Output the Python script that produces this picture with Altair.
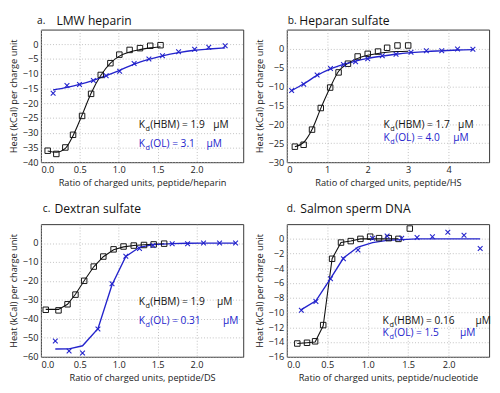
import altair as alt
import pandas as pd

FONT = "Open Sans"
BLUE = "#2323cc"
BLACK = "#111111"

# ---------------- data ----------------
# a. LMW heparin
a_hbm_x = [0.087, 0.198, 0.314, 0.413, 0.529, 0.645, 0.769, 0.893, 1.008, 1.14, 1.273, 1.405, 1.537]
a_hbm_y = [-36.1, -37.2, -35.0, -30.7, -24.3, -16.8, -10.4, -6.4, -3.5, -1.9, -1.3, -0.5, -0.3]
a_hfit_y = [-36.2, -36.6, -35.3, -31.0, -24.0, -16.6, -10.6, -6.4, -4.0, -2.6, -1.8, -1.2, -0.8]
a_ol_x = [0.157, 0.335, 0.496, 0.674, 0.839, 1.012, 1.198, 1.388, 1.562, 1.769, 1.975, 2.157, 2.368]
a_ol_y = [-16.6, -14.0, -13.6, -12.3, -10.7, -9.1, -6.5, -5.0, -3.9, -2.5, -1.7, -1.0, -0.5]
a_ofit_y = [-15.5, -14.6, -13.6, -12.2, -10.6, -8.8, -6.7, -5.1, -3.9, -2.8, -2.0, -1.6, -1.2]

# b. Heparan sulfate
b_hbm_x = [0.2, 0.416, 0.624, 0.84, 1.072, 1.28, 1.512, 1.752, 2.0, 2.256, 2.48, 2.736, 3.0]
b_hbm_y = [-25.9, -25.4, -21.4, -15.7, -10.3, -6.3, -4.0, -2.1, -1.4, -0.8, 0.2, 0.8, 0.8]
b_hfit_y = [-25.9, -24.8, -21.4, -15.8, -10.3, -6.0, -3.9, -2.6, -1.8, -1.3, -1.0, -0.8, -0.7]
b_ol_x = [0.12, 0.42, 0.75, 1.08, 1.4, 1.7, 2.0, 2.36, 2.7, 3.07, 3.45, 3.83, 4.22, 4.6]
b_ol_y = [-11.1, -9.4, -7.0, -5.3, -4.2, -3.5, -2.7, -1.9, -1.5, -1.0, -0.6, -0.6, -0.1, -0.2]
b_ofit_y = [-11.1, -9.3, -7.1, -5.4, -4.2, -3.3, -2.6, -2.0, -1.5, -1.1, -0.8, -0.6, -0.4, -0.3]

# c. Dextran sulfate
c_hbm_x = [0.062, 0.226, 0.342, 0.444, 0.556, 0.679, 0.802, 0.934, 1.062, 1.193, 1.325, 1.449, 1.584]
c_hbm_y = [-35.2, -35.5, -32.3, -27.2, -19.9, -12.4, -7.1, -3.3, -1.8, -1.3, -1.0, -0.7, -0.3]
c_hfit_y = [-35.0, -35.0, -32.3, -27.0, -19.9, -12.5, -7.2, -3.5, -2.0, -1.3, -0.9, -0.6, -0.3]
c_ol_x = [0.185, 0.362, 0.535, 0.733, 0.914, 1.091, 1.267, 1.44, 1.687, 1.885, 2.09, 2.296, 2.502]
c_ol_y = [-51.7, -57.0, -58.0, -45.4, -21.4, -7.0, -2.8, -1.3, -0.3, -0.3, 0.0, 0.0, 0.0]
c_ofit_y = [-55.9, -55.8, -54.2, -45.2, -22.0, -7.0, -2.2, -0.8, -0.3, -0.1, 0.0, 0.0, 0.0]

# d. Salmon sperm DNA
d_hbm_x = [0.13, 0.25, 0.35, 0.45, 0.56, 0.67, 0.79, 0.91, 1.03, 1.14, 1.26, 1.38, 1.52]
d_hbm_y = [-14.2, -14.1, -13.9, -11.7, -2.7, -0.5, -0.3, 0.0, 0.3, 0.1, 0.1, 0.0, 1.4]
d_hfit_x = [0.13, 0.25, 0.35, 0.45, 0.56, 0.67, 0.79, 0.91, 1.03, 1.14, 1.26, 1.38]
d_hfit_y = [-14.2, -14.1, -14.0, -11.8, -2.7, -0.5, -0.3, 0.0, 0.0, 0.0, 0.0, 0.0]
d_ol_x = [0.18, 0.36, 0.54, 0.70, 0.88, 1.06, 1.24, 1.42, 1.61, 1.80, 1.99, 2.19, 2.39]
d_ol_y = [-9.7, -8.5, -5.4, -2.7, -1.5, 0.1, 0.4, 0.1, 0.2, 0.3, 0.9, 0.5, -1.3]
d_ofit_y = [-9.6, -8.4, -5.4, -2.6, -1.1, -0.5, -0.2, -0.1, 0.0, 0.0, 0.0, 0.0, 0.0]

Y_TITLE = "Heat (kCal) per charge unit"
X_SHAPE = "M-1,-1L1,1M1,-1L-1,1"
KD_SIZE = 10.5


def txt(s, x, y, size, color=BLACK):
    return alt.Chart(pd.DataFrame({"t": [s]})).mark_text(
        align="left", baseline="middle", font=FONT, fontSize=size, color=color
    ).encode(text="t:N", x=alt.value(x), y=alt.value(y))


def kd_label(label, value, x, y, mu_x, color):
    return [
        txt("K", x, y, KD_SIZE, color),
        txt("d", x + 7, y + 4, 7.5, color),
        txt(label + " = " + value, x + 12, y, KD_SIZE, color),
        txt("\u03bcM", mu_x, y, KD_SIZE, color),
    ]


def panel(letter, name, hx, hy, hfx, hfy, ox, oy, ofx, ofy,
          xdom, xticks, xfmt, ydom, yticks, xtitle,
          kd_h, kd_o, ann_x, ann_y1, ann_y2, mu1, mu2,
          title_y, letter_x, name_x, width, height, interp):
    xs = alt.Scale(domain=xdom, nice=False, zero=False)
    ys = alt.Scale(domain=ydom, nice=False, zero=False)
    xax = alt.Axis(values=xticks, format=xfmt, title=xtitle)
    yax = alt.Axis(values=yticks, format="d", title=Y_TITLE)

    hpts = pd.DataFrame({"x": hx, "y": hy})
    hfit = pd.DataFrame({"x": hfx, "y": hfy})
    opts = pd.DataFrame({"x": ox, "y": oy})
    ofit = pd.DataFrame({"x": ofx, "y": ofy})

    enc = dict(x=alt.X("x:Q", scale=xs, axis=xax), y=alt.Y("y:Q", scale=ys, axis=yax))

    hline = alt.Chart(hfit).mark_line(color=BLACK, strokeWidth=1.1, interpolate=interp).encode(**enc)
    oline = alt.Chart(ofit).mark_line(color=BLUE, strokeWidth=1.4, interpolate=interp).encode(**enc)
    hmark = alt.Chart(hpts).mark_point(shape="square", filled=False, color=BLACK,
                                       size=32, strokeWidth=1, opacity=1).encode(**enc)
    omark = alt.Chart(opts).mark_point(shape=X_SHAPE, filled=False, color=BLUE,
                                       size=24, strokeWidth=1.1, opacity=1).encode(**enc)

    layers = [hline, oline, hmark, omark]
    layers += kd_label("(HBM)", kd_h, ann_x, ann_y1, mu1, BLACK)
    layers += kd_label("(OL)", kd_o, ann_x, ann_y2, mu2, BLUE)
    layers += [txt(letter + ".", letter_x, title_y, 10.5),
               txt(name, name_x, title_y, 12.5)]
    return alt.layer(*layers).properties(width=width, height=height)


W, H = 209, 137

pa = panel("a", "LMW heparin", a_hbm_x, a_hbm_y, a_hbm_x, a_hfit_y, a_ol_x, a_ol_y, a_ol_x, a_ofit_y,
           [0, 2.6], [0, 0.5, 1.0, 1.5, 2.0], ".1f", [-40, 5], list(range(-40, 1, 5)),
           "Ratio of charged units, peptide/heparin", "1.9", "3.1", 101, 99, 118, 178, 171,
           -9, -4, 16, W, H, "monotone")
pb = panel("b", "Heparan sulfate", b_hbm_x, b_hbm_y, b_hbm_x, b_hfit_y, b_ol_x, b_ol_y, b_ol_x, b_ofit_y,
           [0, 5], [0, 1, 2, 3, 4], "d", [-30, 5], list(range(-30, 1, 5)),
           "Ratio of charged units, peptide/HS", "1.7", "4.0", 100, 99, 112, 177, 172,
           -9, 1, 13, W, H, "monotone")
pc = panel("c", "Dextran sulfate", c_hbm_x, c_hbm_y, c_hbm_x, c_hfit_y, c_ol_x, c_ol_y, c_ol_x, c_ofit_y,
           [0, 2.6], [0, 0.5, 1.0, 1.5, 2.0], ".1f", [-60, 10], list(range(-60, 1, 10)),
           "Ratio of charged units, peptide/DS", "1.9", "0.31", 101, 81, 100, 182, 188,
           -16, 2, 14, W, H, "linear")
pd_ = panel("d", "Salmon sperm DNA", d_hbm_x, d_hbm_y, d_hfit_x, d_hfit_y, d_ol_x, d_ol_y, d_ol_x, d_ofit_y,
            [0, 2.5], [0, 0.5, 1.0, 1.5, 2.0], ".1f", [-16, 2], list(range(-16, 1, 2)),
            "Ratio of charged units, peptide/nucleotide", "0.16", "1.5", 99, 100, 113, 195, 179,
            -16, 0, 14, W, H, "linear")

chart = alt.concat(pa, pb, pc, pd_, columns=2, spacing={"row": 14, "column": 10}).properties(
    padding=0
).configure_view(
    stroke="#333333", strokeWidth=1
).configure_axis(
    grid=True, gridDash=[1, 2], gridColor="#b0b0b0", gridWidth=0.8,
    domain=False, ticks=False,
    labelFont=FONT, labelFontSize=9.5, labelColor="#222222", labelPadding=3,
    titleFont=FONT, titleFontSize=9.5, titleFontWeight="normal", titleColor="#222222",
    titlePadding=4
)

chart.save("out.html", embed_options={"renderer": "svg", "actions": False})
